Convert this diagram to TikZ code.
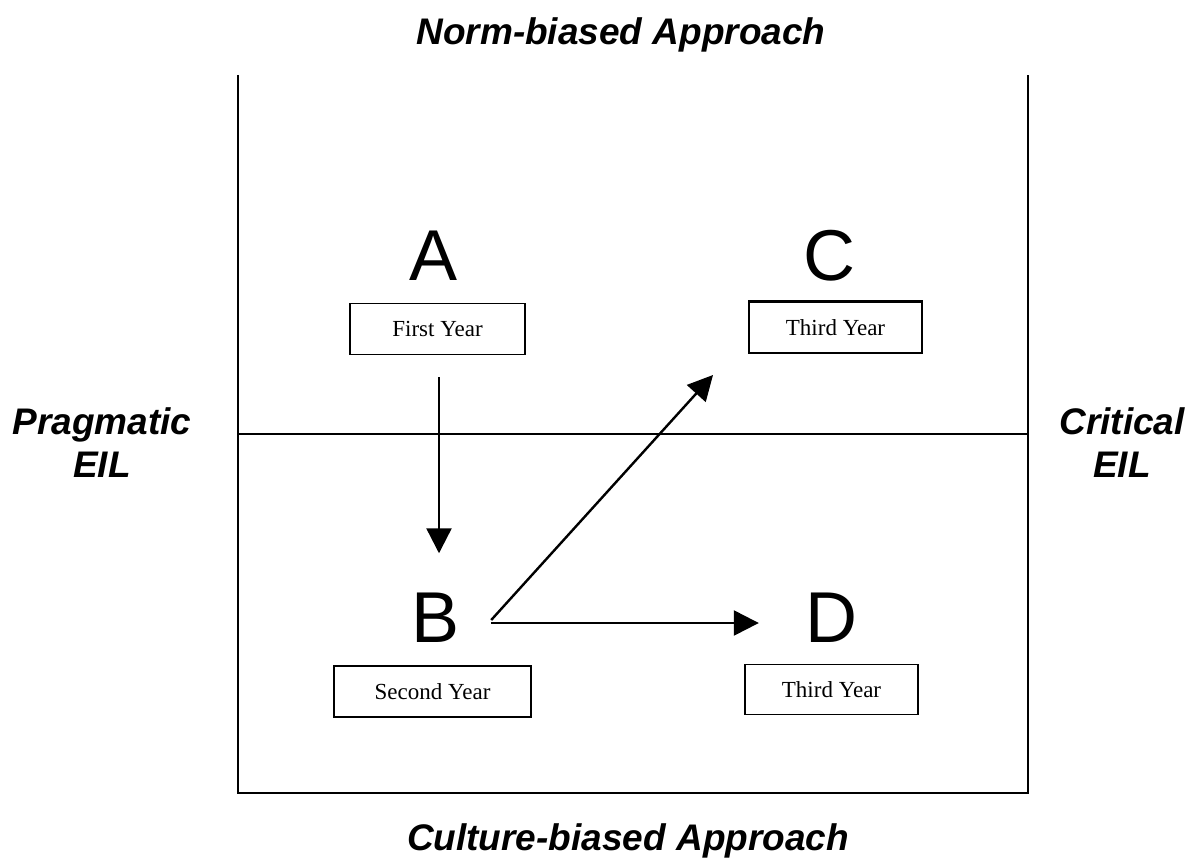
\documentclass[tikz,border=0pt]{standalone}
\usepackage{fontspec}
\setmainfont{Liberation Serif}
\newfontfamily\hv{Liberation Sans}
\usetikzlibrary{arrows.meta,calc}
\tikzset{
  title/.style={font=\hv\bfseries\itshape\fontsize{37}{43}\selectfont, inner sep=0pt, align=center},
  letter/.style={font=\hv\fontsize{72}{72}\selectfont, inner sep=0pt},
  yearbox/.style={draw, line width=1.5pt, inner sep=0pt, font=\fontsize{23}{23}\selectfont},
  frame/.style={line width=1.8pt},
  arr/.style={line width=2.4pt, -{Triangle[length=25pt,width=25pt]}}
}
\begin{document}
\begin{tikzpicture}[x=1pt,y=-1pt]
\useasboundingbox (0,0) rectangle (1190,864);
% frame
\draw[frame] (238,75) -- (238,793) -- (1028,793) -- (1028,75);
\draw[line width=1.4pt] (238,434) -- (1028,434);
% titles
\node[title, anchor=base] (norm) at (621,45) {Norm-biased Approach};
\node[title, anchor=base] (cult) at (628,850) {Culture-biased Approach};
\node[title] (prag) at (102,443) {Pragmatic\\EIL};
\node[title] (crit) at (1122,443) {Critical\\EIL};
% letters
\node[letter, anchor=base] (A) at (434,280) {A};
\node[letter, anchor=base] (C) at (829,280) {C};
\node[letter, anchor=base] (B) at (436,642) {B};
\node[letter, anchor=base] (D) at (831,642) {D};
% boxes
\node[yearbox, minimum width=175pt, minimum height=51pt] (a1) at (437.5,329) {First Year};
\node[yearbox, minimum width=173pt, minimum height=51pt] (c1) at (835.5,327.5) {Third Year};
\draw[line width=2.5pt] (c1.north west) -- (c1.north east);
\node[yearbox, minimum width=197pt, minimum height=51pt] (b1) at (432.5,691.5) {Second Year};
\node[yearbox, minimum width=173pt, minimum height=50pt] (d1) at (831.5,689.5) {Third Year};
% connector ends
\coordinate (ab1) at ($(a1.south)+(1.5,22)$);
\coordinate (ab2) at ($(B.north)+(3,-39)$);
\coordinate (bs) at ($(B.base east)+(31,-22)$);
\coordinate (bh) at ($(B.base east)+(31,-19)$);
\coordinate (bc) at (713,375);
\coordinate (bd) at ($(D.base west)+(-46,-19)$);
\draw[arr] (ab1) -- (ab2);
\draw[arr] (bs) -- (bc);
\draw[arr] (bh) -- (bd);
\end{tikzpicture}
\end{document}
